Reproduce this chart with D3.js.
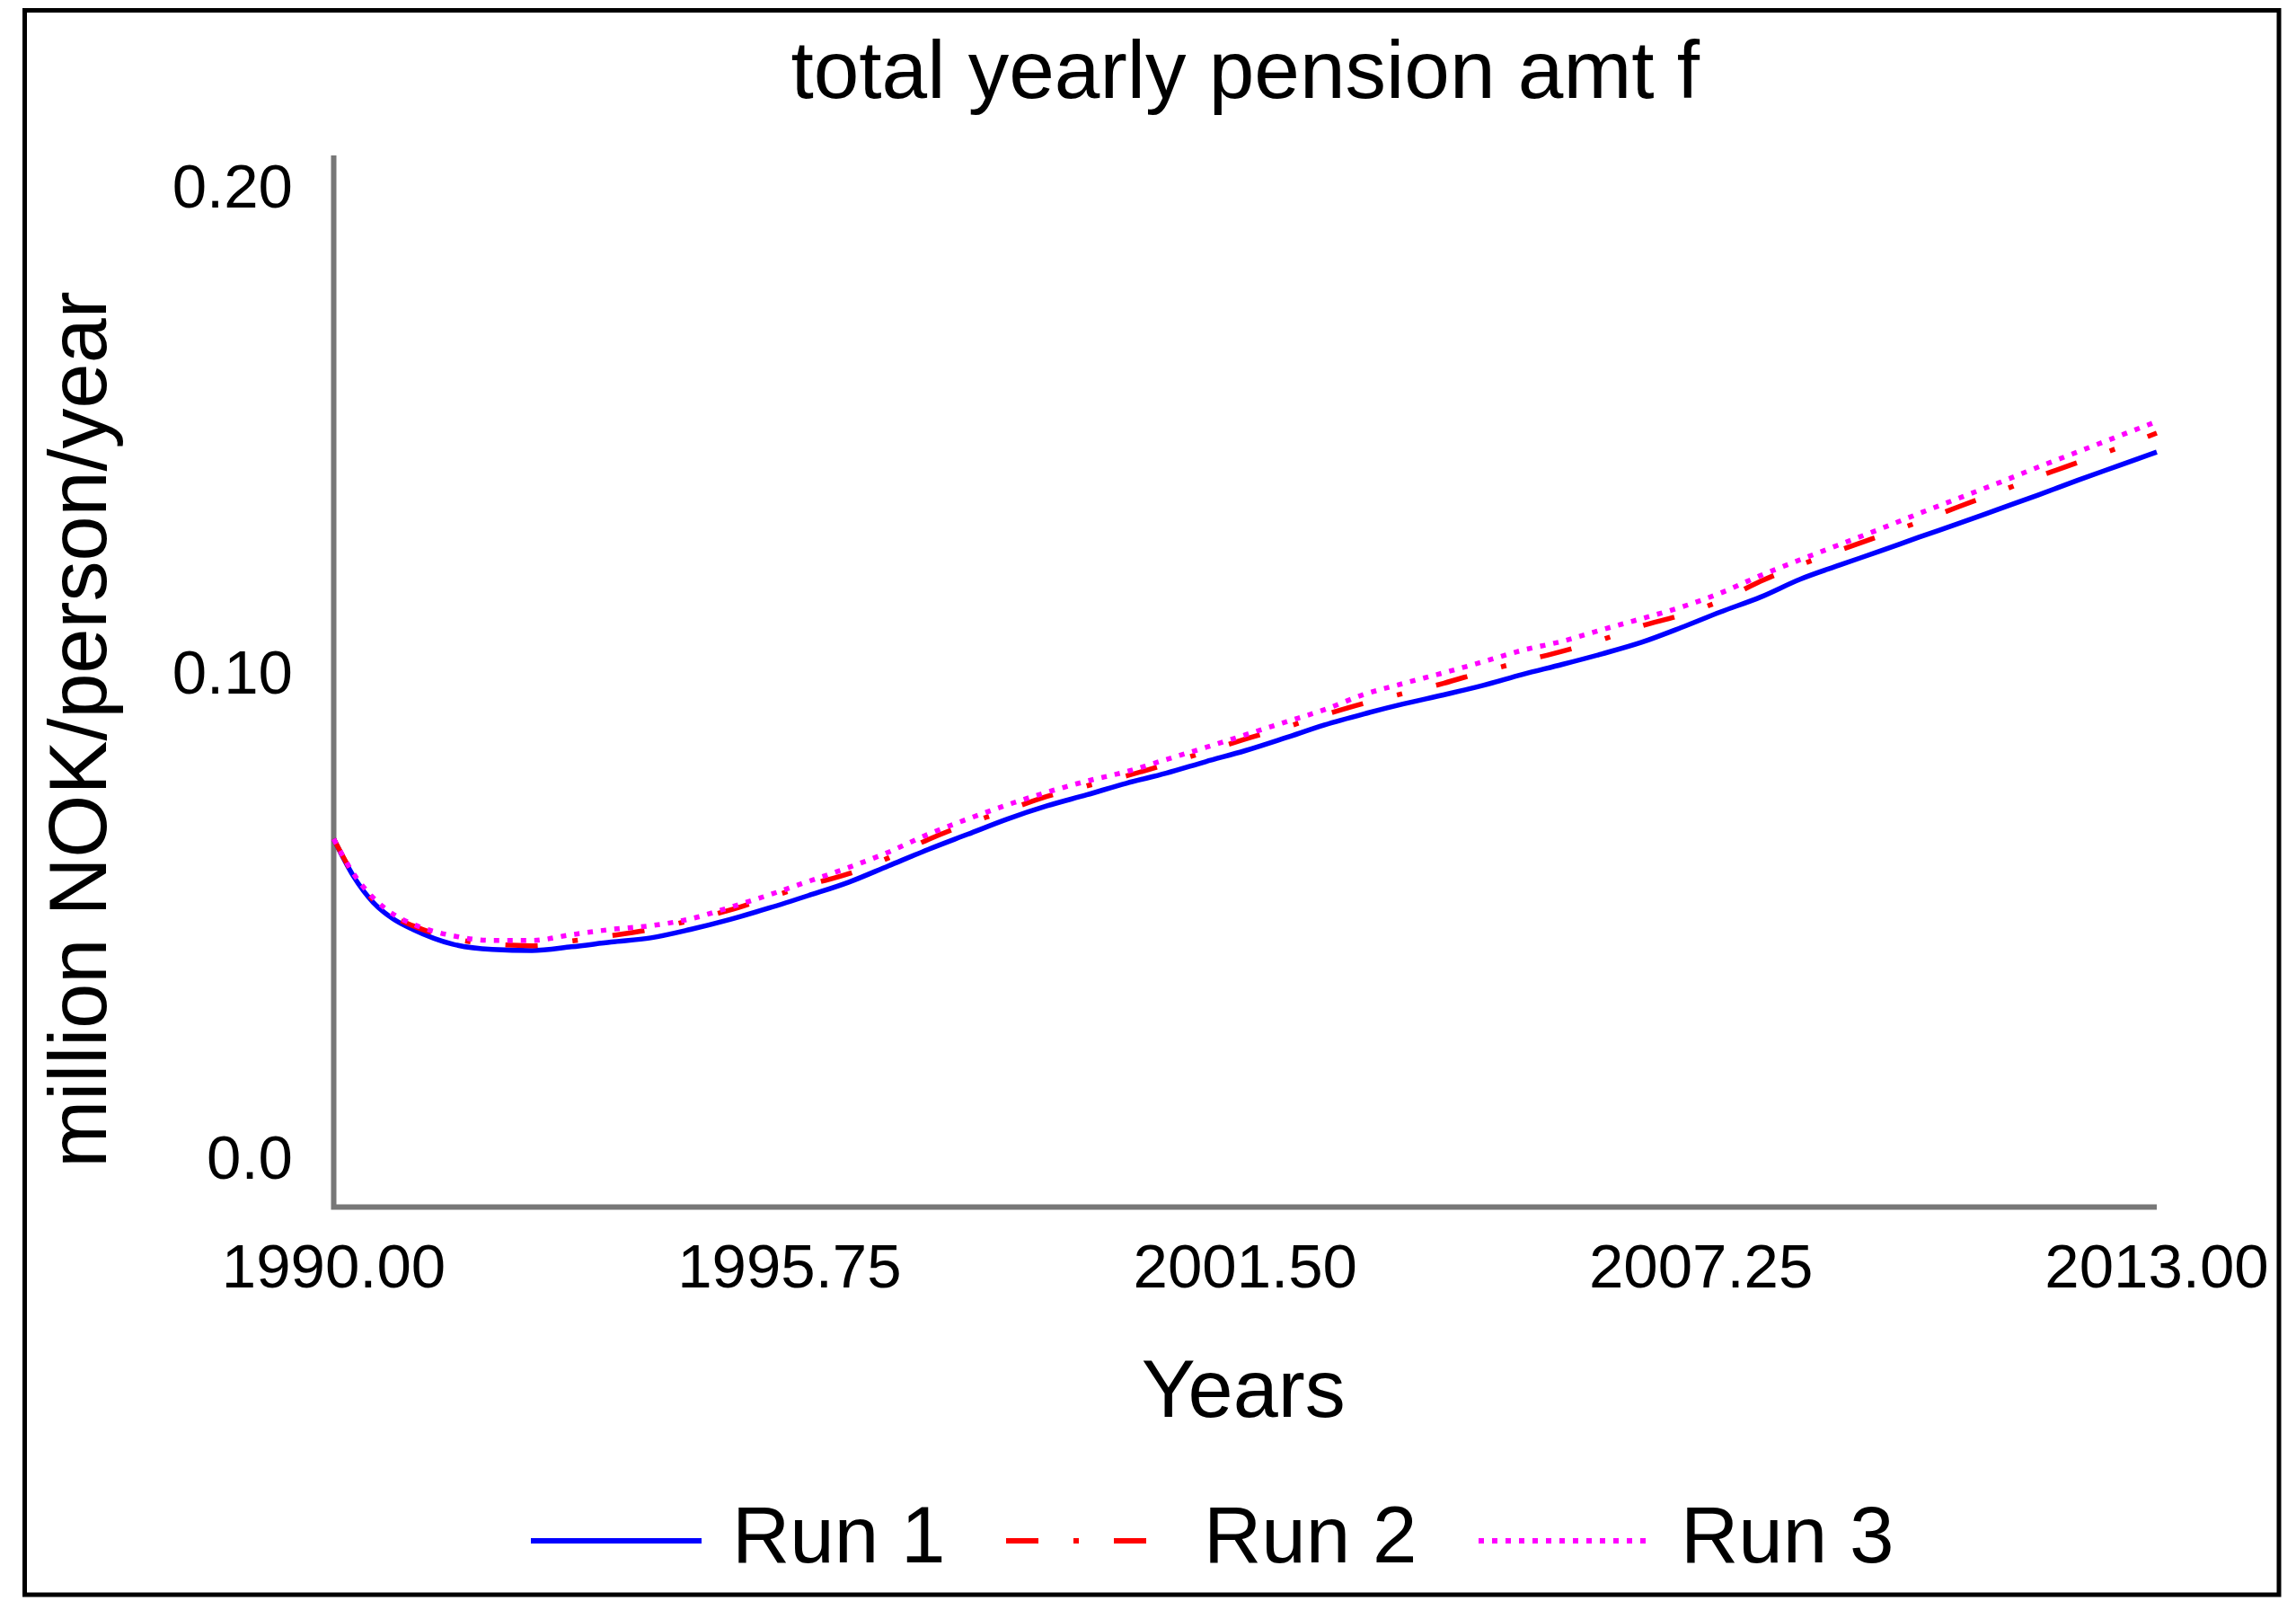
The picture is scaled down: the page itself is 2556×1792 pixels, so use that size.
<!DOCTYPE html>
<html>
<head>
<meta charset="utf-8">
<script src="https://cdn.jsdelivr.net/npm/d3@7"></script>
<style>
    body { margin: 0; background: #fff; }
    text { font-family: "Liberation Sans", Arial, sans-serif; fill: #000; }
    .axis-line { stroke: #777; stroke-width: 6; fill: none; }
    .series { fill: none; stroke-width: 5.5; }
</style>
</head>
<body>
<div id="chart"></div>
<script>
const title = "total yearly pension amt f";
const yTitle = "million NOK/person/year";
const xTitle = "Years";

const years = [1990, 1990.25, 1990.5, 1990.75, 1991, 1991.5, 1992, 1992.5, 1993, 1993.5,
    1994, 1994.5, 1995, 1995.5, 1996, 1996.5, 1997, 1997.5, 1998, 1998.5,
    1999, 1999.5, 2000, 2000.5, 2001, 2001.5, 2002, 2002.5, 2003, 2003.5,
    2004, 2004.5, 2005, 2005.5, 2006, 2006.5, 2007, 2007.5, 2008, 2008.5,
    2009, 2009.5, 2010, 2010.5, 2011, 2011.5, 2012, 2012.5, 2013];

const run1 = [0.0700, 0.0629, 0.0579, 0.0548, 0.0528, 0.0500, 0.0490, 0.0488, 0.0495, 0.0504,
    0.0512, 0.0528, 0.0547, 0.0569, 0.0593, 0.0618, 0.0649, 0.0680, 0.0709, 0.0738,
    0.0763, 0.0784, 0.0806, 0.0825, 0.0847, 0.0868, 0.0892, 0.0917, 0.0938, 0.0957,
    0.0974, 0.0992, 0.1013, 0.1032, 0.1052, 0.1074, 0.1102, 0.1132, 0.1160, 0.1194,
    0.1221, 0.1247, 0.1274, 0.1300, 0.1327, 0.1354, 0.1382, 0.1409, 0.1436];

const run2 = [0.0700, 0.0632, 0.0584, 0.0553, 0.0535, 0.0511, 0.0500, 0.0497, 0.0506, 0.0516,
    0.0528, 0.0545, 0.0565, 0.0589, 0.0613, 0.0634, 0.0664, 0.0699, 0.0729, 0.0755,
    0.0781, 0.0801, 0.0820, 0.0842, 0.0866, 0.0890, 0.0912, 0.0936, 0.0958, 0.0977,
    0.0996, 0.1018, 0.1038, 0.1057, 0.1079, 0.1105, 0.1126, 0.1153, 0.1190, 0.1221,
    0.1249, 0.1276, 0.1303, 0.1332, 0.1360, 0.1389, 0.1416, 0.1443, 0.1472];

const run3 = [0.0700, 0.0634, 0.0588, 0.0557, 0.0538, 0.0516, 0.0507, 0.0507, 0.0518, 0.0528,
    0.0535, 0.0548, 0.0570, 0.0594, 0.0620, 0.0646, 0.0675, 0.0709, 0.0738, 0.0765,
    0.0789, 0.0810, 0.0828, 0.0851, 0.0874, 0.0898, 0.0922, 0.0946, 0.0975, 0.0996,
    0.1016, 0.1037, 0.1059, 0.1076, 0.1098, 0.1119, 0.1141, 0.1168, 0.1201, 0.1231,
    0.1260, 0.1289, 0.1319, 0.1348, 0.1377, 0.1407, 0.1436, 0.1465, 0.1494];

const seriesNames = ["Run 1", "Run 2", "Run 3"];
const xTicks = [1990, 1995.75, 2001.5, 2007.25, 2013];
const yTicks = [0, 0.1, 0.2];
const yTickLabels = ["0.0", "0.10", "0.20"];

const width = 2556,
      height = 1792,
      plot = {left: 371.5, right: 2401, top: 173, bottom: 1343.5};

// line styles per run (vensim default look)
const styles = [
    {color: "#0000ff", dash: null},
    {color: "#ff0000", dash: "36,39,6,39"},
    {color: "#ff00ff", dash: "6,9"}
];

const svg = d3.select("#chart").append("svg")
    .attr("width", width)
    .attr("height", height);

const scale = {
    x: d3.scaleLinear().domain([1990, 2013]).range([plot.left, plot.right]),
    y: d3.scaleLinear().domain([0, 0.2]).range([plot.bottom, plot.top]),
    // tick labels sit inside the axis ends, as in the original
    yLabel: d3.scaleLinear().domain([0, 0.2]).range([1312, 231])
};

const runs = [run1, run2, run3].map((values, i) => ({
    name: seriesNames[i],
    style: styles[i],
    values: values.map((v, j) => ({x: years[j], y: v}))
}));

function renderFrame() {
    svg.append("rect")
        .attr("x", 27.5)
        .attr("y", 11.5)
        .attr("width", 2509.5)
        .attr("height", 1763.5)
        .attr("fill", "none")
        .attr("stroke", "#000")
        .attr("stroke-width", 5);

    svg.append("text")
        .attr("x", (plot.left + plot.right) / 2)
        .attr("y", 109)
        .attr("text-anchor", "middle")
        .style("font-size", "91px")
        .text(title);
}

function renderAxes() {
    svg.append("path")
        .attr("class", "axis-line")
        .attr("d", `M${plot.left},${scale.y.range()[1]} V${plot.bottom} H${scale.x.range()[1]}`);

    svg.selectAll(".x-tick")
        .data(xTicks)
        .enter()
        .append("text")
        .attr("class", "x-tick")
        .attr("x", d => scale.x(d))
        .attr("y", 1433)
        .attr("text-anchor", "middle")
        .style("font-size", "69px")
        .text(d => d3.format(".2f")(d));

    svg.selectAll(".y-tick")
        .data(yTicks)
        .enter()
        .append("text")
        .attr("class", "y-tick")
        .attr("x", 326)
        .attr("y", d => scale.yLabel(d))
        .attr("text-anchor", "end")
        .style("font-size", "69px")
        .text((d, i) => yTickLabels[i]);

    svg.append("text")
        .attr("x", (plot.left + plot.right) / 2 - 2)
        .attr("y", 1577)
        .attr("text-anchor", "middle")
        .style("font-size", "90px")
        .text(xTitle);

    svg.append("text")
        .attr("transform", "translate(118,812) rotate(-90)")
        .attr("text-anchor", "middle")
        .style("font-size", "90px")
        .text(yTitle);
}

function renderSeries() {
    let line = d3.line()
        .x(d => scale.x(d.x))
        .y(d => scale.y(d.y))
        .curve(d3.curveMonotoneX);

    svg.selectAll(".series")
        .data(runs)
        .enter()
        .append("path")
        .attr("class", "series")
        .attr("stroke", d => d.style.color)
        .attr("stroke-dasharray", d => d.style.dash)
        .attr("d", d => line(d.values));
}

function renderLegend() {
    const legendY = 1715,
          items = [
              {x: 591, len: 190, textX: 815},
              {x: 1120, len: 159, textX: 1340},
              {x: 1646, len: 192, textX: 1871}
          ];

    let g = svg.selectAll(".legend-item")
        .data(runs)
        .enter()
        .append("g")
        .attr("class", "legend-item");

    g.append("line")
        .attr("x1", (d, i) => items[i].x)
        .attr("x2", (d, i) => items[i].x + items[i].len)
        .attr("y1", legendY)
        .attr("y2", legendY)
        .attr("stroke", d => d.style.color)
        .attr("stroke-width", 6)
        .attr("stroke-dasharray", d => d.style.dash);

    g.append("text")
        .attr("x", (d, i) => items[i].textX)
        .attr("y", 1739)
        .style("font-size", "89px")
        .text(d => d.name);
}

renderFrame();
renderAxes();
renderSeries();
renderLegend();
</script>
</body>
</html>
